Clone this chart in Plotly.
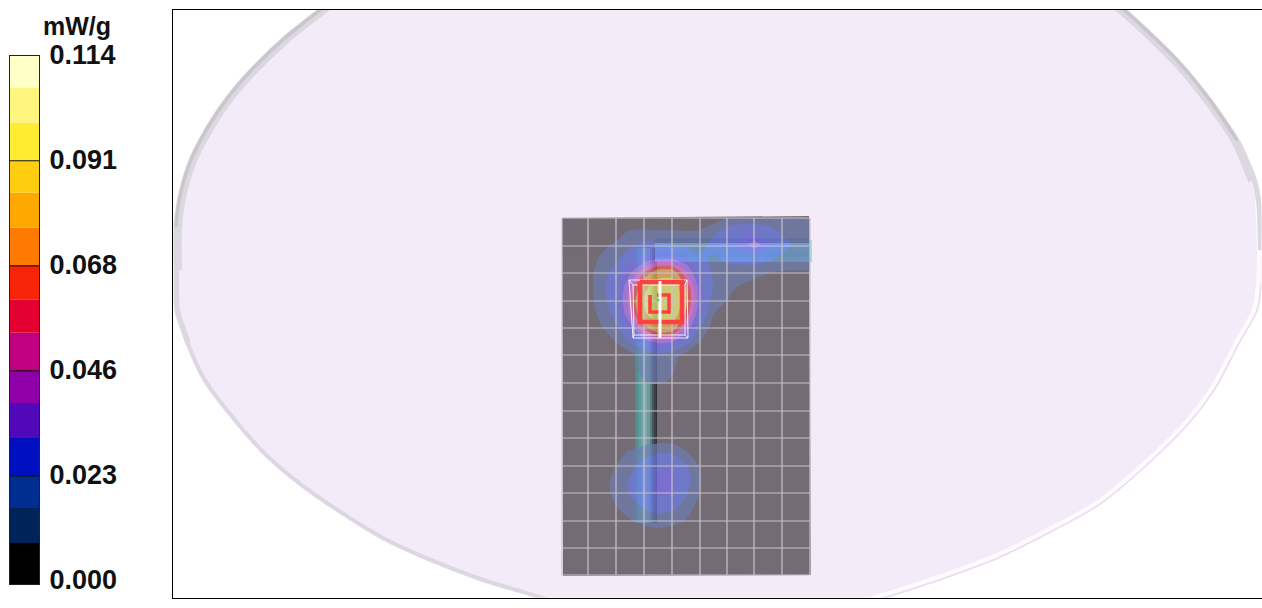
import numpy as np
import plotly.graph_objects as go

# ---- colour legend ----
legend_edges = [-0.00065, 0.00825, 0.01585, 0.0228, 0.03105, 0.03865, 0.0456, 0.05385,
                0.06102, 0.0684, 0.07665, 0.08425, 0.0912, 0.09945, 0.10705, 0.114]
legend_colors = ["#000000", "#00245a", "#002d90", "#0010c0", "#5008b8", "#9000a8", "#c00080",
                 "#e40030", "#f82408", "#ff7a00", "#ffa800", "#ffcc10", "#ffec30", "#fff47c", "#ffffc8"]
tick_values = [0.0, 0.0228, 0.0456, 0.0684, 0.0912, 0.114]
tick_labels = ["0.000", "0.023", "0.046", "0.068", "0.091", "0.114"]
unit_label = "mW/g"

# ---- phantom outline ----
outline_x = [335, 317, 282, 248, 225, 205, 188, 177, 173, 173, 174, 185, 202, 232, 265, 298, 338, 382, 432, 482, 525, 560,
             860, 893, 950, 1000, 1050, 1100, 1150, 1190, 1217, 1240, 1258, 1262, 1263, 1261, 1257, 1240, 1213, 1183, 1150, 1127, 1105]
outline_y = [-5, 9, 37, 70, 97, 127, 160, 197, 227, 270, 310, 343, 380, 420, 457, 485, 513, 540, 563, 582, 595, 606,
             606, 596, 577, 558, 533, 505, 463, 423, 387, 343, 310, 285, 250, 200, 180, 140, 100, 63, 30, 9, -8]
# first point, last point, colour, width, inset
rim_segments = [(0, 10, "#dcd8e0", 8, 1), (0, 9, "#c9c6cc", 3.5, 1), (8, 12, "#dcd8e0", 5, 1), (10, 22, "#dcd7e2", 4, 0.5),
                (22, 34, "#eadfee", 2, 0), (22, 36, "#fdfbfe", 4, 2), (34, 38, "#dcd8e0", 5, 0), (36, 43, "#dcd8e0", 8, 1), (37, 43, "#c9c6cc", 3.5, 1)]

# ---- measurement plate and scan grid ----
plate_x = [562, 809, 811, 563]
plate_y = [218, 216, 575, 576]
grid_x = [562, 588, 616, 644, 672, 700, 727, 754, 782, 810]
grid_y = [218, 246, 273, 301, 328, 355, 383, 411, 438, 466, 493, 521, 548, 575]

# ---- feed tubes, colour across the tube ----
vtube_x = [635, 638, 641, 644, 647, 650, 652, 654, 656, 657]
vtube_colors = ["#4f8e8e", "#5f9a9a", "#6fa4a4", "#7aacae", "#6f9a9c", "#5a7c80", "#46585c", "#35404a", "#2e3236"]
vtube_y = [248, 523]
htube_y = [238, 243, 247, 252, 257, 262]
htube_colors = ["#4e5c6a", "#8fc4cc", "#6ab2ba", "#66b0b8", "#70bcc0"]
htube_x = [655, 809]
hcap_x = [809, 812]
hcap_color = "#8fe6e8"

# ---- SAR field, mW/g x 1000, at half-cell nodes ----
field_x = [562, 576, 590, 603, 617, 631, 645, 658, 672, 686, 700, 714, 727, 741, 755, 769, 782, 796, 810]
field_y = [218, 232, 245, 259, 273, 287, 300, 314, 328, 342, 355, 369, 383, 397, 410, 424, 438, 452, 465, 479, 493, 507, 520, 534, 548, 562, 575]
field_rows = [
    [0, 0, 0, 0, 0, 0, 0, 0, 0, 0, 0, 8, 12, 14, 14, 13, 13, 13, 13],
    [0, 0, 0, 0, 8, 14, 15, 14, 14, 13, 14, 18, 23, 25, 25, 24, 18, 16, 16],
    [0, 0, 8, 10, 14, 18, 21, 20, 19, 17, 17, 21, 26, 30, 38, 28, 22, 18, 17],
    [0, 0, 9, 14, 18, 24, 30, 34, 34, 28, 20, 18, 20, 21, 22, 20, 17, 16, 16],
    [0, 0, 10, 17, 22, 34, 52, 66, 66, 44, 24, 18, 17, 16, 15, 12, 11, 11, 11],
    [0, 0, 10, 18, 24, 44, 70, 85, 88, 58, 30, 18, 14, 11, 8, 0, 0, 0, 0],
    [0, 0, 10, 17, 24, 48, 78, 95, 100, 62, 30, 15, 12, 8, 0, 0, 0, 0, 0],
    [0, 0, 9, 15, 22, 44, 72, 85, 88, 56, 26, 12, 8, 0, 0, 0, 0, 0, 0],
    [0, 0, 0, 12, 18, 30, 54, 70, 66, 40, 19, 8, 0, 0, 0, 0, 0, 0, 0],
    [0, 0, 0, 0, 13, 20, 30, 36, 34, 22, 12, 0, 0, 0, 0, 0, 0, 0, 0],
    [0, 0, 0, 0, 0, 10, 14, 16, 14, 10, 0, 0, 0, 0, 0, 0, 0, 0, 0],
    [0, 0, 0, 0, 0, 11, 13, 14, 13, 8, 0, 0, 0, 0, 0, 0, 0, 0, 0],
    [0, 0, 0, 0, 0, 8, 12, 13, 11, 0, 0, 0, 0, 0, 0, 0, 0, 0, 0],
    [0, 0, 0, 0, 0, 0, 0, 0, 0, 0, 0, 0, 0, 0, 0, 0, 0, 0, 0],
    [0, 0, 0, 0, 0, 0, 0, 0, 0, 0, 0, 0, 0, 0, 0, 0, 0, 0, 0],
    [0, 0, 0, 0, 0, 0, 0, 0, 0, 0, 0, 0, 0, 0, 0, 0, 0, 0, 0],
    [0, 0, 0, 0, 0, 0, 8, 8, 8, 0, 0, 0, 0, 0, 0, 0, 0, 0, 0],
    [0, 0, 0, 0, 8, 14, 16, 18, 18, 13, 0, 0, 0, 0, 0, 0, 0, 0, 0],
    [0, 0, 0, 0, 12, 17, 22, 26, 27, 20, 11, 0, 0, 0, 0, 0, 0, 0, 0],
    [0, 0, 0, 9, 15, 20, 24, 28, 29, 22, 14, 0, 0, 0, 0, 0, 0, 0, 0],
    [0, 0, 0, 9, 15, 20, 24, 28, 28, 20, 12, 0, 0, 0, 0, 0, 0, 0, 0],
    [0, 0, 0, 0, 12, 16, 20, 24, 21, 16, 9, 0, 0, 0, 0, 0, 0, 0, 0],
    [0, 0, 0, 0, 0, 12, 14, 15, 14, 12, 0, 0, 0, 0, 0, 0, 0, 0, 0],
    [0, 0, 0, 0, 0, 0, 9, 10, 9, 0, 0, 0, 0, 0, 0, 0, 0, 0, 0],
    [0, 0, 0, 0, 0, 0, 0, 0, 0, 0, 0, 0, 0, 0, 0, 0, 0, 0, 0],
    [0, 0, 0, 0, 0, 0, 0, 0, 0, 0, 0, 0, 0, 0, 0, 0, 0, 0, 0],
    [0, 0, 0, 0, 0, 0, 0, 0, 0, 0, 0, 0, 0, 0, 0, 0, 0, 0, 0],
]
field_levels = [1, 12, 19, 27, 34, 42, 50, 58, 74, 120]
field_colors = ["rgba(0,0,0,0)", "#6d7eb7", "#6e7ef5", "#7e72ff", "#b97eff", "#ff72e8", "#ff5a60", "#ffbb55", "#ffff7a"]
field_opacity = 0.65

# ---- coil and zoom cube ----
coil_outer_x = [640, 682, 682, 640, 640]
coil_outer_y = [282, 282, 322, 322, 282]
coil_inner_x = [657, 669, 669, 650, 650]
coil_inner_y = [295, 295, 312, 312, 295]
feed_x = [660, 660]
feed_y = [281, 338]
cube_x = [629, 687, 688, 633, 629, None, 633, 685, 685, 634, 633, None, 629, 633, None, 687, 685, None, 688, 685, None, 633, 634]
cube_y = [280, 280, 338, 338, 280, None, 285, 285, 335, 335, 285, None, 280, 285, None, 280, 285, None, 338, 335, None, 338, 335]
peak_x = [658]
peak_y = [300]

# ---- pixel layout of the two panels ----
W, H = 1262, 608
main_box = (172.5, 1261.5, 9.5, 597.5)
bar_box = (10, 39, 55.7, 584)


def dom_x(a, b):
    return [a / W, b / W]


def dom_y(top, bottom):
    return [1 - bottom / H, 1 - top / H]


fig = go.Figure()

# phantom surface (base subplot)
ox, oy = np.array(outline_x, float), np.array(outline_y, float)
fig.add_trace(go.Scatter(x=outline_x, y=outline_y, mode="lines", fill="toself", fillcolor="#f3ecf8",
                         line=dict(color="#f3ecf8", width=0, shape="spline", smoothing=0.8), hoverinfo="skip"))
cx, cy = 717.0, 275.0
dist = np.hypot(ox - cx, oy - cy)
for a, b, col, wid, inset in rim_segments:
    k = 1 - (wid / 2 + inset) / dist[a:b]
    fig.add_trace(go.Scatter(x=cx + (ox[a:b] - cx) * k, y=cy + (oy[a:b] - cy) * k, mode="lines",
                             line=dict(color=col, width=wid, shape="spline", smoothing=0.8), hoverinfo="skip"))

# plate
fig.add_trace(go.Scatter(x=plate_x + plate_x[:1], y=plate_y + plate_y[:1], mode="lines", fill="toself",
                         fillcolor="#736c74", line=dict(width=0), hoverinfo="skip"))

# tubes and field on an overlay subplot so they sit above the plate
n = len(vtube_colors)
fig.add_trace(go.Heatmap(x=vtube_x, y=vtube_y, z=[list(range(n))], zmin=0, zmax=n - 1, showscale=False,
                         colorscale=[[i / (n - 1), c] for i, c in enumerate(vtube_colors)], hoverinfo="skip",
                         xaxis="x3", yaxis="y3"))
m = len(htube_colors)
fig.add_trace(go.Heatmap(x=htube_x, y=htube_y, z=[[i] for i in range(m)], zmin=0, zmax=m - 1, showscale=False,
                         colorscale=[[i / (m - 1), c] for i, c in enumerate(htube_colors)], hoverinfo="skip",
                         xaxis="x3", yaxis="y3"))
fig.add_trace(go.Heatmap(x=hcap_x, y=[240, 262], z=[[1]], showscale=False,
                         colorscale=[[0, hcap_color], [1, hcap_color]], hoverinfo="skip", xaxis="x3", yaxis="y3"))

lev = field_levels
span = lev[-1] - lev[0]
scale = []
for i, c in enumerate(field_colors):
    scale += [[(lev[i] - lev[0]) / span, c], [(lev[i + 1] - lev[0]) / span, c]]
fig.add_trace(go.Contour(x=field_x, y=field_y, z=field_rows, opacity=field_opacity,
                         autocontour=False, colorscale=scale, showscale=False,
                         contours=dict(coloring="fill", start=lev[0], end=lev[-1], size=1, showlines=False),
                         line=dict(width=0, smoothing=0.4), hoverinfo="skip", xaxis="x3", yaxis="y3"))

# grid, cube, coil, feed on the top overlay
top = dict(xaxis="x4", yaxis="y4", hoverinfo="skip")
gx, gy = [], []
for v in grid_x:
    gx += [v, v, None]
    gy += [grid_y[0], grid_y[-1], None]
for v in grid_y:
    gx += [grid_x[0], grid_x[-1], None]
    gy += [v, v, None]
fig.add_trace(go.Scatter(x=gx, y=gy, mode="lines", line=dict(color="#c8c4cc", width=1.2), **top))
fig.add_trace(go.Scatter(x=cube_x, y=cube_y, mode="lines", line=dict(color="#f4eef8", width=1), **top))
fig.add_trace(go.Scatter(x=coil_outer_x, y=coil_outer_y, mode="lines", line=dict(color="#ff4040", width=4.5), **top))
fig.add_trace(go.Scatter(x=coil_inner_x, y=coil_inner_y, mode="lines", line=dict(color="#ff4040", width=3.5), **top))
fig.add_trace(go.Scatter(x=feed_x, y=feed_y, mode="lines", line=dict(color="#ffffff", width=3), **top))
fig.add_trace(go.Scatter(x=peak_x, y=peak_y, mode="markers", marker=dict(color="#40e070", size=3), **top))

# legend bar
edges = np.array(legend_edges)
fig.add_trace(go.Bar(x=[0.5] * len(legend_colors), y=np.diff(edges), base=edges[:-1], width=1,
                     marker=dict(color=legend_colors, line=dict(width=0)), xaxis="x2", yaxis="y2", hoverinfo="skip"))
lx, ly = [], []
for v in tick_values[1:-1]:
    lx += [0, 1, None]
    ly += [v, v, None]
fig.add_trace(go.Scatter(x=lx, y=ly, mode="lines", line=dict(color="#111111", width=1.2), xaxis="x2", yaxis="y2", hoverinfo="skip"))

label_font = dict(family="Liberation Sans", size=27, color="#111111", weight="bold")
hidden = dict(range=None, showgrid=False, zeroline=False, showticklabels=False, ticks="", showline=False, automargin=False)
x_over = {**hidden, "range": list(main_box[:2]), "domain": dom_x(*main_box[:2])}
y_over = {**hidden, "range": [main_box[3], main_box[2]], "domain": dom_y(*main_box[2:])}
fig.update_layout(
    width=W, height=H, margin=dict(l=0, r=0, t=0, b=0), showlegend=False,
    paper_bgcolor="white", plot_bgcolor="white", barmode="overlay",
    xaxis={**x_over, "showline": True, "mirror": True, "linecolor": "#000000", "linewidth": 1},
    yaxis={**y_over, "showline": True, "mirror": True, "linecolor": "#000000", "linewidth": 1},
    xaxis3={**x_over, "overlaying": "x", "anchor": "y3", "visible": False},
    yaxis3={**y_over, "overlaying": "y", "anchor": "x3", "visible": False},
    xaxis4={**x_over, "overlaying": "x", "anchor": "y4", "visible": False},
    yaxis4={**y_over, "overlaying": "y", "anchor": "x4", "visible": False},
    xaxis2=dict(domain=dom_x(*bar_box[:2]), range=[0, 1], anchor="y2", showgrid=False, zeroline=False, automargin=False,
                showticklabels=False, ticks="", showline=True, mirror=True, linecolor="#222222", linewidth=1),
    yaxis2=dict(domain=dom_y(*bar_box[2:]), range=[legend_edges[0], legend_edges[-1]], anchor="x2", side="right",
                showgrid=False, zeroline=False, automargin=False, tickmode="array", tickvals=tick_values,
                ticktext=tick_labels, ticks="outside", ticklen=4, ticklabelshift=-1,
                tickcolor="rgba(0,0,0,0)", tickfont=label_font, showline=True, mirror=True,
                linecolor="#222222", linewidth=1),
    annotations=[dict(text=unit_label, x=77 / W, y=1 - 26 / H, xref="paper", yref="paper", showarrow=False,
                      xanchor="center", yanchor="middle",
                      font=dict(family="Liberation Sans", size=25, color="#111111", weight="bold"))],
)
fig.write_html("out.html", config=dict(displayModeBar=False),
               post_script="document.body.style.margin='0';document.documentElement.style.overflow='hidden';")
